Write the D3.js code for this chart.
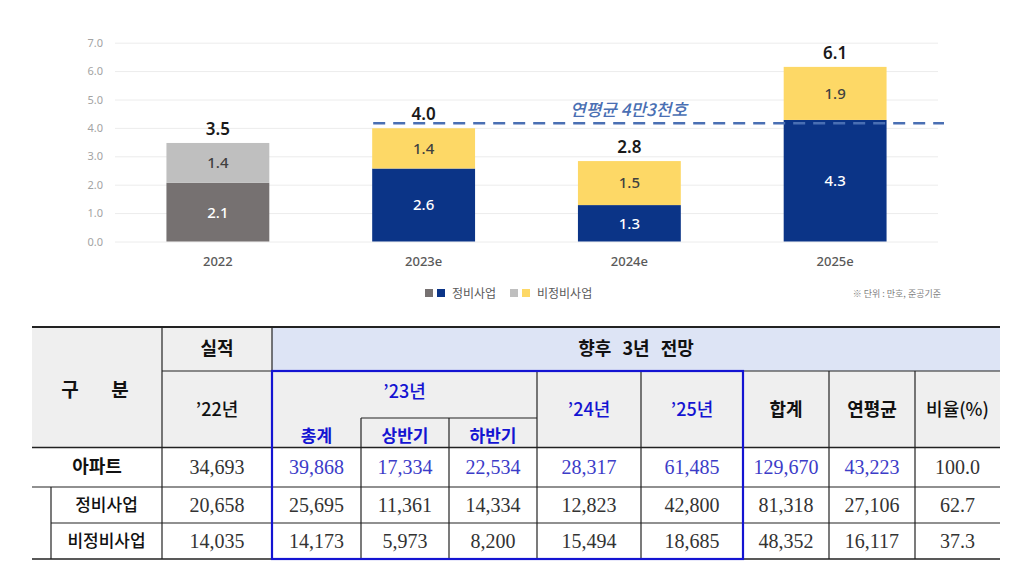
<!DOCTYPE html>
<html><head><meta charset="utf-8">
<script src="https://cdn.jsdelivr.net/npm/d3@7/dist/d3.min.js"></script>
<style>
html,body{margin:0;padding:0;background:#fff;}
svg{display:block;}
</style></head>
<body>
<svg id="c" width="1028" height="580"></svg>
<script>
// ---------- DATA ----------
const categories = ["2022", "2023e", "2024e", "2025e"];
// values in 만호 (ten-thousand units), from the table below
const jungbiValues   = [2.0658, 2.5695, 1.2823, 4.2800];
const bijungbiValues = [1.4035, 1.4173, 1.5494, 1.8685];
const yTicks = [0, 1, 2, 3, 4, 5, 6, 7];
const avgLineValue = 4.16;              // dashed line as drawn
const avgLabel = "연평균 4만3천호";
const seriesNames = ["정비사업", "비정비사업"];
const noteText = "※ 단위 : 만호, 준공기준";

// table
const rowLabels = ["아파트", "정비사업", "비정비사업"];
const rowApt      = ["34,693", "39,868", "17,334", "22,534", "28,317", "61,485", "129,670", "43,223", "100.0"];
const rowJungbi   = ["20,658", "25,695", "11,361", "14,334", "12,823", "42,800", "81,318", "27,106", "62.7"];
const rowBijungbi = ["14,035", "14,173", "5,973", "8,200", "15,494", "18,685", "48,352", "16,117", "37.3"];

// ---------- CHART ----------
const svg = d3.select("#c");
const colorsJ = ["#767171", "#0b3487", "#0b3487", "#0b3487"];
const colorsB = ["#bfbfbf", "#fdd866", "#fdd866", "#fdd866"];

const x = d3.scaleBand().domain(categories).range([115, 938]).paddingInner(0.5).paddingOuter(0.25);
const y = d3.scaleLinear().domain([0, 7]).range([241.5, 42.7]);

const yAxis = svg.append("g").attr("transform", "translate(115,0)")
  .call(d3.axisLeft(y).tickValues(yTicks).tickFormat(d3.format(".1f")).tickSizeInner(-823).tickSizeOuter(0).tickPadding(12));
yAxis.select(".domain").remove();
yAxis.selectAll("line").attr("stroke", "#ececec").attr("stroke-width", 1);
yAxis.selectAll("text").attr("fill", "#a3a3a3").style("font-family", "'Noto Sans', sans-serif").style("font-size", "11px");

const xAxis = svg.append("g").attr("transform", "translate(0,241.5)")
  .call(d3.axisBottom(x).tickSize(0).tickPadding(15));
xAxis.select(".domain").remove();
xAxis.selectAll("text").attr("fill", "#595959").style("font-family", "'Noto Sans', sans-serif").style("font-size", "13px").style("font-weight", "500");

const stackData = categories.map((c, i) => ({cat: c, j: jungbiValues[i], b: bijungbiValues[i], i}));

const bars = svg.append("g");
bars.selectAll("rect.j").data(stackData).join("rect").attr("class", "j")
  .attr("x", d => x(d.cat)).attr("width", x.bandwidth())
  .attr("y", d => y(d.j)).attr("height", d => y(0) - y(d.j))
  .attr("fill", d => colorsJ[d.i]);
bars.selectAll("rect.b").data(stackData).join("rect").attr("class", "b")
  .attr("x", d => x(d.cat)).attr("width", x.bandwidth())
  .attr("y", d => y(d.j + d.b)).attr("height", d => y(d.j) - y(d.j + d.b))
  .attr("fill", d => colorsB[d.i]);

const lblFont = "'Noto Sans', sans-serif";
bars.selectAll("text.jl").data(stackData).join("text").attr("class", "jl")
  .attr("x", d => x(d.cat) + x.bandwidth() / 2).attr("y", d => y(d.j / 2))
  .attr("dy", "0.36em").attr("text-anchor", "middle")
  .style("font-family", lblFont).style("font-size", "15px").style("font-weight", "500")
  .attr("fill", "#ffffff").text(d => d.j.toFixed(1));
bars.selectAll("text.bl").data(stackData).join("text").attr("class", "bl")
  .attr("x", d => x(d.cat) + x.bandwidth() / 2).attr("y", d => y(d.j + d.b / 2))
  .attr("dy", "0.36em").attr("text-anchor", "middle")
  .style("font-family", lblFont).style("font-size", "15px").style("font-weight", "500")
  .attr("fill", "#404040").text(d => d.b.toFixed(1));
bars.selectAll("text.tl").data(stackData).join("text").attr("class", "tl")
  .attr("x", d => x(d.cat) + x.bandwidth() / 2).attr("y", d => y(d.j + d.b) - 8)
  .attr("text-anchor", "middle")
  .style("font-family", lblFont).style("font-size", "17px").style("font-weight", "600")
  .attr("fill", "#1a1a1a").text(d => (d.j + d.b).toFixed(1));

// average dashed line
svg.append("line")
  .attr("x1", x(categories[1]) + 1).attr("x2", 944)
  .attr("y1", y(avgLineValue)).attr("y2", y(avgLineValue))
  .attr("stroke", "#4a6fb3").attr("stroke-width", 2.5).attr("stroke-dasharray", "12,8");
svg.append("text").attr("x", 570).attr("y", y(avgLineValue) - 7)
  .style("font-family", "'Noto Sans CJK KR', sans-serif").style("font-size", "17px")
  .style("font-style", "italic").style("font-weight", "500")
  .attr("fill", "#4a6fb3").text(avgLabel);

// legend
const leg = svg.append("g").style("font-family", "'Noto Sans CJK KR', sans-serif").style("font-size", "12px");
const legItems = [
  {cols: [colorsJ[0], colorsJ[1]], name: seriesNames[0], x: 425},
  {cols: [colorsB[0], colorsB[1]], name: seriesNames[1], x: 510}
];
legItems.forEach(it => {
  leg.append("rect").attr("x", it.x).attr("y", 289).attr("width", 8).attr("height", 8).attr("fill", it.cols[0]);
  leg.append("rect").attr("x", it.x + 12).attr("y", 289).attr("width", 8).attr("height", 8).attr("fill", it.cols[1]);
  leg.append("text").attr("x", it.x + 27).attr("y", 297.5).attr("fill", "#595959").text(it.name);
});
svg.append("text").attr("x", 941).attr("y", 297).attr("text-anchor", "end")
  .style("font-family", "'Noto Sans CJK KR', sans-serif").style("font-size", "9px")
  .attr("fill", "#7f7f7f").text(noteText);

// ---------- TABLE ----------
const T = svg.append("g");
const gray = "#efefef", lightBlue = "#dde4f5", blue = "#1414d2", dataBlue = "#3c3cc8";
const yTop = 327, yH1 = 371, yH2 = 418, yHB = 447.5, yR1 = 487, yR2 = 523, yBot = 559;
const colX = [162, 272, 361, 449, 537, 641, 743, 829, 915, 1000];
const colCenters = colX.slice(0, -1).map((v, i) => (v + colX[i + 1]) / 2);

// backgrounds
T.append("rect").attr("x", 32).attr("y", yTop).attr("width", 240).attr("height", yHB - yTop).attr("fill", gray);
T.append("rect").attr("x", 272).attr("y", yTop).attr("width", 728).attr("height", yH1 - yTop).attr("fill", lightBlue);
T.append("rect").attr("x", 272).attr("y", yH1).attr("width", 728).attr("height", yHB - yH1).attr("fill", gray);

const ln = (x1, y1, x2, y2, w = 1.2, c = "#222") =>
  T.append("line").attr("x1", x1).attr("y1", y1).attr("x2", x2).attr("y2", y2).attr("stroke", c).attr("stroke-width", w);

// horizontal lines
ln(32, yTop, 1000, yTop, 2);
ln(162, yH1, 1000, yH1);
ln(361, yH2, 537, yH2);
ln(32, yHB, 1000, yHB, 1.5);
ln(32, yR1, 1000, yR1);
ln(51, yR2, 1000, yR2);
ln(32, yBot, 1000, yBot, 1.5);
// vertical lines
ln(162, yTop, 162, yBot);
ln(272, yTop, 272, yBot);
[361, 449].forEach(v => ln(v, yH2, v, yBot));
[537, 641, 829, 915].forEach(v => ln(v, yH1, v, yBot));
ln(51, yR1, 51, yBot);
// blue box
T.append("rect").attr("x", 272).attr("y", yH1).attr("width", 743 - 272).attr("height", yBot - yH1)
  .attr("fill", "none").attr("stroke", blue).attr("stroke-width", 2.2);

const hFont = "'Noto Sans CJK KR', sans-serif";
const txt = (s, cx, cy, opts = {}) => T.append("text")
  .attr("x", cx).attr("y", cy).attr("dy", "0.36em").attr("text-anchor", "middle")
  .style("font-family", opts.font || hFont).style("font-size", (opts.size || 18) + "px")
  .style("font-weight", opts.weight || 700).attr("fill", opts.color || "#111")
  .style("word-spacing", opts.ws || "0px").text(s);

txt("구 분", 95, 390, {ws: "28px", size: 19});
txt("실적", 217, 349);
txt("’22년", 217, 410, {weight: 500});
txt("향후 3년 전망", 636, 349, {ws: "7px"});
txt("’23년", (272 + 537) / 2, 392, {color: blue, weight: 500});
txt("총계", colCenters[1], 436, {color: blue, size: 17});
txt("상반기", colCenters[2], 436, {color: blue, size: 17});
txt("하반기", colCenters[3], 436, {color: blue, size: 17});
txt("’24년", colCenters[4], 410, {color: blue, weight: 500});
txt("’25년", colCenters[5], 410, {color: blue, weight: 500});
txt("합계", colCenters[6], 410);
txt("연평균", colCenters[7], 410);
txt("비율(%)", colCenters[8], 410, {weight: 500});

txt(rowLabels[0], 97, 467);
txt(rowLabels[1], 106.5, 505, {size: 17, weight: 500});
txt(rowLabels[2], 106.5, 541, {size: 17, weight: 500});

const numFont = "'Liberation Serif', serif";
const rows = [rowApt, rowJungbi, rowBijungbi];
const rowY = [467, 505, 541];
rows.forEach((r, ri) => {
  T.selectAll(null).data(r).join("text")
    .attr("x", (d, i) => colCenters[i]).attr("y", rowY[ri]).attr("dy", "0.35em")
    .attr("text-anchor", "middle")
    .style("font-family", numFont).style("font-size", "20px")
    .attr("fill", (d, i) => (ri === 0 && i > 0 && i < 8) ? dataBlue : "#333")
    .text(d => d);
});
</script>
</body></html>
